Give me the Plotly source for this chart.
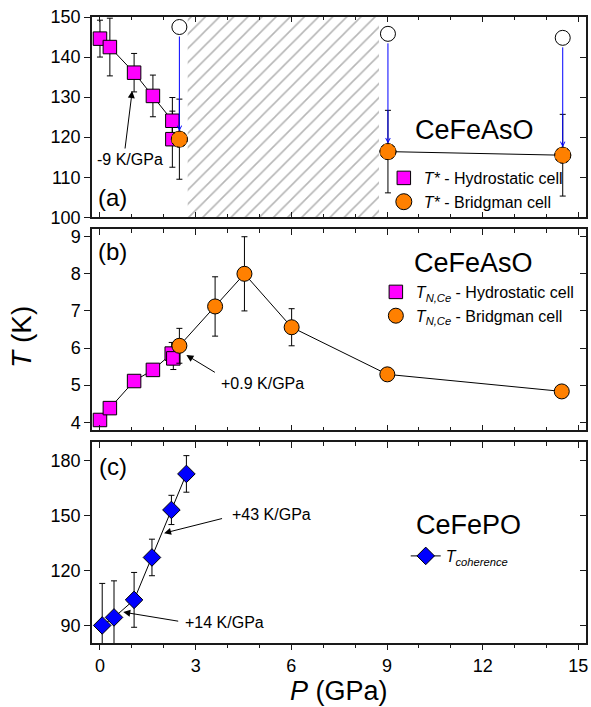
import plotly.graph_objects as go

# ---------------- data ----------------
# Panel (a): T* of CeFeAsO
hyd_a_p = [0.0, 0.31, 1.07, 1.66, 2.27, 2.27]
hyd_a_t = [144.6, 142.5, 136.1, 130.3, 124.1, 119.5]
hyd_a_err = [4.6, 7.2, 4.8, 5.2, 5.8, 7.0]
bri_a_p = [2.49, 9.03, 14.51]
bri_a_t = [119.5, 116.4, 115.5]
bri_a_err = [10.0, 10.3, 10.2]
open_a_t = [147.5, 145.8, 144.8]
hatch_p = [2.75, 8.75]

# Panel (b): T_N,Ce of CeFeAsO
hyd_b_p = [0.0, 0.31, 1.07, 1.66, 2.25, 2.30]
hyd_b_t = [4.06, 4.38, 5.11, 5.41, 5.85, 5.72]
hyd_b_err = [0.1, 0.1, 0.1, 0.1, 0.3, 0.3]
bri_b_p = [2.49, 3.61, 4.53, 6.01, 9.01, 14.48]
bri_b_t = [6.06, 7.12, 8.00, 6.56, 5.29, 4.83]
bri_b_err = [0.47, 0.8, 1.0, 0.5, 0.05, 0.12]

# Panel (c): T_coherence of CeFePO
coh_p = [0.07, 0.44, 1.07, 1.63, 2.24, 2.71]
coh_t = [90.0, 94.4, 104.0, 127.2, 153.2, 172.9]
coh_err = [23, 20, 15, 10, 8, 10]

x_range = [-0.25, 15.24]
ya_range = [100, 150]
yb_range = [3.79, 9.2]
yc_range = [80.4, 190.2]
x_ticks = [0, 3, 6, 9, 12, 15]

# ---------------- styles ----------------
FONT = "Liberation Sans, Arial, sans-serif"
MAG = "#FF00FF"
ORA = "#FF8000"
BLU = "#0000FF"
AX = "#1a1a1a"

fig = go.Figure()

# hatched region (a)
fig.add_trace(go.Scatter(
    x=[hatch_p[0], hatch_p[1], hatch_p[1], hatch_p[0], hatch_p[0]],
    y=[ya_range[0], ya_range[0], ya_range[1], ya_range[1], ya_range[0]],
    mode="lines", fill="toself", fillcolor="white", line=dict(width=0),
    fillpattern=dict(shape="/", fgcolor="#6e6e6e", bgcolor="white", size=10, solidity=0.16),
    hoverinfo="skip", showlegend=False, xaxis="x", yaxis="y"))

err_style = dict(type="data", color="black", thickness=1, width=3)

# (a) lines
fig.add_trace(go.Scatter(x=hyd_a_p, y=hyd_a_t, mode="lines", line=dict(color="black", width=1),
                         showlegend=False, hoverinfo="skip", xaxis="x", yaxis="y"))
fig.add_trace(go.Scatter(x=bri_a_p[1:], y=bri_a_t[1:], mode="lines", line=dict(color="black", width=1),
                         showlegend=False, hoverinfo="skip", xaxis="x", yaxis="y"))
# (a) markers
fig.add_trace(go.Scatter(x=hyd_a_p, y=hyd_a_t, mode="markers", name="<i>T*</i> - Hydrostatic cell",
                         error_y=dict(array=hyd_a_err, **err_style),
                         marker=dict(symbol="square", size=13.5, color=MAG, line=dict(color="black", width=1)),
                         legend="legend", xaxis="x", yaxis="y"))
fig.add_trace(go.Scatter(x=bri_a_p, y=open_a_t, mode="markers", showlegend=False,
                         marker=dict(symbol="circle", size=15, color="white", line=dict(color="black", width=1)),
                         xaxis="x", yaxis="y"))
fig.add_trace(go.Scatter(x=bri_a_p, y=bri_a_t, mode="markers", name="<i>T*</i> - Bridgman cell",
                         error_y=dict(array=bri_a_err, **err_style),
                         marker=dict(symbol="circle", size=16, color=ORA, line=dict(color="black", width=1)),
                         legend="legend", xaxis="x", yaxis="y"))

# (b)
fig.add_trace(go.Scatter(x=hyd_b_p + bri_b_p, y=hyd_b_t + bri_b_t, mode="lines",
                         line=dict(color="black", width=1), showlegend=False, hoverinfo="skip",
                         xaxis="x2", yaxis="y2"))
fig.add_trace(go.Scatter(x=hyd_b_p, y=hyd_b_t, mode="markers",
                         name="<i>T</i><sub><i>N,Ce</i></sub> - Hydrostatic cell",
                         error_y=dict(array=hyd_b_err, **err_style),
                         marker=dict(symbol="square", size=13.5, color=MAG, line=dict(color="black", width=1)),
                         legend="legend2", xaxis="x2", yaxis="y2"))
fig.add_trace(go.Scatter(x=bri_b_p, y=bri_b_t, mode="markers",
                         name="<i>T</i><sub><i>N,Ce</i></sub> - Bridgman cell",
                         error_y=dict(array=bri_b_err, **err_style),
                         marker=dict(symbol="circle", size=15, color=ORA, line=dict(color="black", width=1)),
                         legend="legend2", xaxis="x2", yaxis="y2"))

# (c)
fig.add_trace(go.Scatter(x=coh_p, y=coh_t, mode="lines+markers",
                         name="<i>T</i><sub><i>coherence</i></sub>",
                         error_y=dict(array=coh_err, **err_style),
                         line=dict(color="black", width=1),
                         marker=dict(symbol="diamond", size=13.5, color=BLU, line=dict(color="black", width=1)),
                         legend="legend3", xaxis="x3", yaxis="y3"))

# empty traces to make overlay axes render
for xa, ya in [("x", "y4"), ("x2", "y5"), ("x3", "y6"), ("x4", "y3")]:
    fig.add_trace(go.Scatter(x=[None], y=[None], mode="markers", showlegend=False,
                             hoverinfo="skip", xaxis=xa, yaxis=ya))

# dotted outline for Bridgman points in (a)
shapes = []
for p, t in zip(bri_a_p, bri_a_t):
    shapes.append(dict(type="circle", xref="x", yref="y", xsizemode="pixel", ysizemode="pixel",
                       xanchor=p, yanchor=t, x0=-8, x1=8, y0=-8, y1=8,
                       fillcolor=ORA, line=dict(color="black", width=1, dash="dot"), layer="above"))

# ---------------- axes ----------------
H = 626.0
def ydom(top_px, bot_px):
    return [(643 - bot_px) / H, (643 - top_px) / H]

dom_a = ydom(17, 217.3)
dom_b = ydom(229.3, 430)
dom_c = ydom(442.3, 643)

base_x = dict(range=x_range, tickvals=x_ticks, showgrid=False, zeroline=False,
              showline=True, linecolor=AX, linewidth=1.5, tickcolor=AX, tickwidth=1.2,
              minor=dict(dtick=1, tick0=0, ticklen=3.5, tickcolor=AX, tickwidth=1.2),
              tickfont=dict(family=FONT, size=18, color="black"))
def xax(anchor, ticks, labels, mirror, **kw):
    d = dict(base_x)
    d.update(anchor=anchor, ticks=ticks, ticklen=5.5, showticklabels=labels, mirror=mirror)
    d["minor"] = dict(base_x["minor"], ticks=ticks)
    d.update(kw)
    return d

def yax(rng, dtick, dom, anchor, ticks="outside", labels=True, **kw):
    d = dict(range=rng, dtick=dtick, tick0=0, domain=dom, anchor=anchor, showgrid=False,
             zeroline=False, showline=True, linecolor=AX, linewidth=1.5, ticks=ticks,
             ticklen=6, tickcolor=AX, tickwidth=1.2, showticklabels=labels,
             tickfont=dict(family=FONT, size=18, color="black"))
    d.update(kw)
    return d

layout = dict(
    width=591, height=707, margin=dict(l=92, r=3, t=17, b=64),
    paper_bgcolor="white", plot_bgcolor="white",
    font=dict(family=FONT, size=16, color="black"),
    xaxis=xax("y", "inside", False, "ticks"),
    xaxis2=xax("y2", "inside", False, "ticks"),
    xaxis3=xax("y3", "outside", True, False),
    xaxis4=xax("y3", "inside", False, False, overlaying="x3", side="top"),
    yaxis=yax(ya_range, 10, dom_a, "x"),
    yaxis2=yax(yb_range, 1, dom_b, "x2"),
    yaxis3=yax(yc_range, 30, dom_c, "x3"),
    yaxis4=yax(ya_range, 10, dom_a, "x", ticks="inside", labels=False, overlaying="y", side="right"),
    yaxis5=yax(yb_range, 1, dom_b, "x2", ticks="inside", labels=False, overlaying="y2", side="right"),
    yaxis6=yax(yc_range, 30, dom_c, "x3", ticks="inside", labels=False, overlaying="y3", side="right"),
    shapes=shapes,
)

leg_common = dict(bgcolor="rgba(0,0,0,0)", font=dict(family=FONT, size=16, color="black"),
                  xanchor="left", yanchor="top", itemwidth=30, tracegroupgap=0)
layout["legend"] = dict(leg_common, x=(385 - 92) / 496, y=(643 - 161) / H)
layout["legend2"] = dict(leg_common, x=(377 - 92) / 496, y=(643 - 275) / H)
layout["legend3"] = dict(leg_common, x=(407 - 92) / 496, y=(643 - 539) / H)

ann = []
def label(text, xref, yref, x, y, size, **kw):
    d = dict(text=text, xref=xref, yref=yref, x=x, y=y, showarrow=False,
             font=dict(family=FONT, size=size, color="black"), xanchor="center", yanchor="middle")
    d.update(kw)
    ann.append(d)

label("(a)", "x domain", "y domain", 0.042, 0.101, 24)
label("(b)", "x2 domain", "y2 domain", 0.042, 0.888, 24)
label("(c)", "x3 domain", "y3 domain", 0.042, 0.879, 24)
label("CeFeAsO", "x domain", "y domain", 0.774, 0.436, 27)
label("CeFeAsO", "x2 domain", "y2 domain", 0.773, 0.831, 27)
label("CeFePO", "x3 domain", "y3 domain", 0.763, 0.589, 27)
label("-9 K/GPa", "x", "y", 0.94, 114.5, 16)
label("+0.9 K/GPa", "x2", "y2", 5.09, 5.05, 16)
label("+43 K/GPa", "x3", "y3", 5.375, 150.5, 16)
label("+14 K/GPa", "x3", "y3", 3.9, 91.6, 16)
label("<i>T</i> (K)", "paper", "paper", -0.1417, 0.489, 28, textangle=-90)
label("<i>P</i> (GPa)", "paper", "paper", 0.5, -0.076, 27)

def arrow(xr, yr, tail, head, color="black", head_style=2, size=1.4, **kw):
    d = dict(text="", xref=xr, yref=yr, axref=xr, ayref=yr, x=head[0], y=head[1],
             ax=tail[0], ay=tail[1], showarrow=True, arrowhead=head_style, arrowsize=size,
             arrowwidth=1, arrowcolor=color)
    d.update(kw)
    ann.append(d)

arrow("x", "y", (0.78, 116.8), (1.01, 131.5))
arrow("x2", "y2", (3.65, 5.32), (2.71, 5.81))
arrow("x3", "y3", (3.875, 148.7), (2.01, 140.5))
arrow("x3", "y3", (2.5, 92.2), (0.73, 97.3))
for p, t_open, t_b in zip(bri_a_p, open_a_t, bri_a_t):
    arrow("x", "y", (p, t_open), (p, t_b), color=BLU, head_style=5, size=0.9,
          standoff=8, startstandoff=8)

layout["annotations"] = ann
fig.update_layout(**layout)
fig.write_html("out.html")
